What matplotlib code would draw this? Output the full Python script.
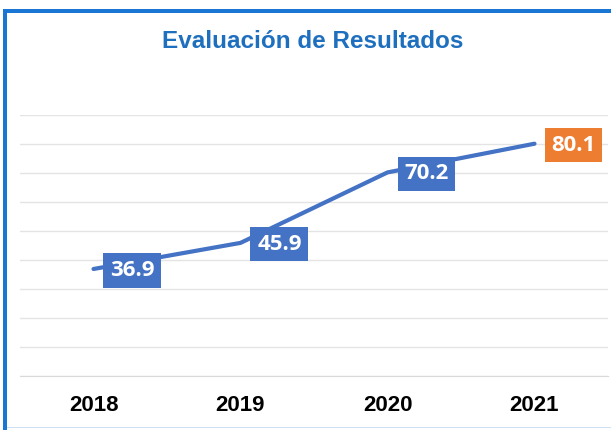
import matplotlib
matplotlib.use("Agg")
import matplotlib.pyplot as plt
from matplotlib.patches import Rectangle

# -----------------------------
# Data
# -----------------------------

years = ["2018", "2019", "2020", "2021"]
scores = [36.9, 45.9, 70.2, 80.1]
box_colors = ["#4472C4", "#4472C4", "#4472C4", "#ED7D31"]

title = "Evaluación de Resultados"

# -----------------------------
# Plot
# -----------------------------

fig = plt.figure(figsize=(6.11, 4.30), dpi=100)
ax = fig.add_axes([20 / 611, 54 / 430, 588 / 611, 261 / 430])

x = range(len(years))
ax.plot(x, scores, color="#4472C4", lw=3, solid_capstyle="round", zorder=3)

for i, (v, c) in enumerate(zip(scores, box_colors)):
    ax.annotate(f"{v:.1f}", (i, v), xytext=(28, -1), textcoords="offset points",
                ha="center", va="center", color="white", fontsize=16,
                fontweight="bold", family="Open Sans", zorder=5,
                bbox=dict(boxstyle="square,pad=0.3", fc=c, ec="none"))

ax.set_xlim(-0.5, len(years) - 0.5)
ax.set_ylim(0, 90)
ax.set_yticks(range(0, 100, 10))
ax.set_yticklabels([])
ax.set_xticks(list(x))
ax.set_xticklabels(years, fontsize=16, fontweight="bold", family="Liberation Sans")
ax.tick_params(axis="both", length=0)
ax.tick_params(axis="x", pad=14)
ax.grid(axis="y", color="#e4e4e4", lw=1)
ax.set_axisbelow(True)
for s in ["top", "right", "left"]:
    ax.spines[s].set_visible(False)
ax.spines["bottom"].set_color("#d9d9d9")

fig.text(313 / 611, 1 - 42 / 430, title, ha="center", va="center",
         fontsize=17.5, fontweight="bold", color="#1F6FBF", family="Liberation Sans")

# blue frame around the chart (left + top edges, light bottom edge)
W, H = 611, 430
frame = "#1976D2"
fig.add_artist(Rectangle((3 / W, 0), 4 / W, (H - 9) / H, transform=fig.transFigure,
                         fc=frame, ec="none"))
fig.add_artist(Rectangle((3 / W, (H - 13) / H), 1, 4 / H, transform=fig.transFigure,
                         fc=frame, ec="none"))
fig.add_artist(Rectangle((7 / W, 2 / H), 1, 1.5 / H, transform=fig.transFigure,
                         fc="#cfe0f3", ec="none"))

fig.savefig("out.png", dpi=100)
